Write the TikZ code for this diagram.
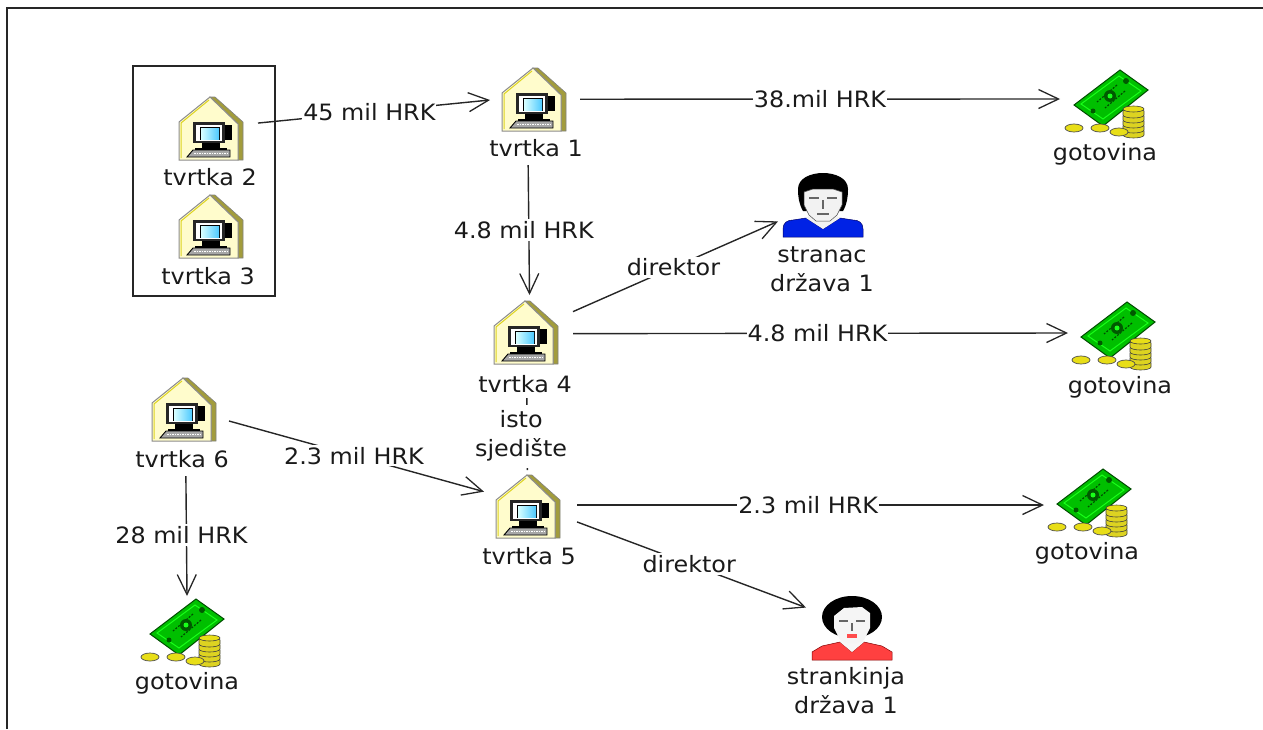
\documentclass[tikz,border=0pt]{standalone}
\usepackage{fontspec}
\setmainfont[FakeStretch=1.06]{DejaVu Sans}
\usetikzlibrary{arrows.meta}
\definecolor{txt}{HTML}{1A1A1A}
\tikzset{
  box/.style 2 args={minimum width=#1pt,minimum height=#2pt,inner sep=0pt,outer sep=0pt},
  lbl/.style={font=\fontsize{22.5}{29}\selectfont,text=txt,inner sep=0pt,align=center},
  elbl/.style={lbl,fill=white,inner xsep=1pt,inner ysep=2pt},
  flow/.style={draw=black!85,line width=1.4pt,-{Straight Barb[length=20pt,width=19pt,line width=1.3pt]}},
  plain/.style={draw=black!85,line width=1.4pt},
  pics/house/.style={code={
    \fill[fill=olive!70!white!90!black,draw=black!50,line width=.6pt] (0,0)--(5,0)--(33,25)--(33,63)--(28,63)--(28,27)--cycle;
    \fill[fill=yellow!20,draw=black!45,line width=1pt] (0,0)--(-31,25)--(-31,63)--(28,63)--(28,27)--cycle;
    \draw[yellow!85!black,line width=1pt] (-1,3)--(-29,26)--(-29,61);
    \fill[black!85] (-17,25) rectangle (15,46);
    \fill[black] (15,28) rectangle (22,43);
    \fill[white] (-14,27.5) rectangle (12,44);
    \fill[black] (-10.5,30) rectangle (10,43);
    \fill[left color=cyan!15,right color=cyan!70!blue!70] (-9,31) rectangle (9,42);
    \fill[black] (-8,46) rectangle (10,51);
    \fill[black] (-15,51) rectangle (17,53);
    \fill[black!35,draw=black,line width=.9pt] (-17,53)--(20,53)--(20,60)--(-23,60)--cycle;
    \draw[white,line width=1pt,dash pattern=on 1.5pt off 1pt] (-16,56.5)--(18,56.5);
  }},
  pics/money/.style={code={
    \fill[green!75!black,draw=green!30!black,line width=1pt] (0,0)--(28,20)--(-17,56)--(-46,35)--cycle;
    \draw[green!90!white,line width=1pt] (-1,6)--(21,21)--(-17,49)--(-39,34)--cycle;
    \draw[green!30!black,line width=1.2pt,dash pattern=on 2pt off 1.5pt] (-3,15)--(-23,32) (5,21)--(-15,38);
    \fill[green!35!black] (-10,26) circle (6);
    \fill[green!90!white] (-10,26) circle (2.5);
    \fill[green!35!black] (6,11) circle (3);
    \fill[green!35!black] (-27,41) circle (2.5);
    \foreach \y in {61,56,51,46,41}{
      \fill[yellow!85!black,draw=black!75,line width=.6pt] (3,\y) -- (3,\y+4) arc[start angle=180,end angle=360,x radius=10.5,y radius=-3] -- (24,\y) arc[start angle=0,end angle=180,x radius=10.5,y radius=-3] -- cycle;
    }
    \fill[yellow!90!black,draw=black!75,line width=.6pt] (13.5,39) ellipse (10.5 and 3);
    \foreach \x/\y in {-46/58,-20/58,-1/62}{
      \fill[yellow!90!black,draw=black!70,line width=.7pt] (\x,\y) ellipse (9 and 4);
    }
  }},
  pics/man/.style={code={
    \fill[blue!85!cyan!90!black,draw=blue!40!black,line width=.5pt] (-40,64)--(-40,56) .. controls (-40,50) and (-36,47) .. (-30,47) -- (-17,45)--(0,56)--(17,45)--(30,47) .. controls (36,47) and (40,50) .. (40,56)--(40,64)--cycle;
    \fill[black!5] (-8,38)--(8,38)--(17,45)--(0,56)--(-17,45)--cycle;
    \fill[black] (-25,16) .. controls (-25,5) and (-12,0) .. (0,0) .. controls (12,0) and (25,5) .. (25,16) .. controls (25,24) and (24,31) .. (20,38) --(-20,38) .. controls (-24,31) and (-25,24) .. (-25,16) -- cycle;
    \fill[black!5,draw=black!70,line width=.5pt] (-19,19)--(-10,16)--(10,16)--(19,19)--(19,32)--(14,42)--(7,48)--(-7,48)--(-14,42)--(-19,32)--cycle;
    \draw[black!60,line width=1.2pt] (-14,25)--(-4,25) (4,25)--(14,25) (0,27)--(0,36) (-6,41)--(6,41);
  }},
  pics/woman/.style={code={
    \fill[red!75!white,draw=red!50!black,line width=.5pt] (-40,64)--(-40,56)--(-30,50)--(-12,46)--(0,56)--(12,46)--(30,50)--(40,56)--(40,64)--cycle;
    \fill[black!3] (-7,38)--(7,38)--(12,46)--(0,56)--(-12,46)--cycle;
    \fill[black] (0,21) ellipse (30 and 21);
    \fill[black!4] (-18,20)--(-8,12)--(10,11)--(18,17)--(18,32)--(12,44)--(4,47)--(-4,47)--(-12,44)--(-18,32)--cycle;
    \draw[black!60,line width=1.2pt] (-13,25)--(-4,25) (4,25)--(13,25) (0,27)--(0,35);
    \fill[red!70!white] (-5,38) rectangle (5,41.5);
  }},
}
\begin{document}
\begin{tikzpicture}[x=1pt,y=-1pt]
\useasboundingbox (0,0) rectangle (1263,729);
\draw[black!85,line width=2pt] (6.5,729)--(6.5,8)--(1263,8);
\node[draw=black!85,line width=1.4pt,box={142}{230}] (grp) at (204,181) {};

% invisible anchor boxes for the entities
\node[box={94}{60}] (t2) at (211,128) {};
\node[box={90}{130}] (t1) at (535,100) {};
\node[box={96}{103}] (t4) at (525,346.5) {};
\node[box={93}{70}] (t5) at (530.5,505) {};
\node[box={92}{110}] (t6) at (183,421) {};
\node[box={60}{60}] (t3) at (211,226) {};
\node[box={90}{60}] (c1) at (1105,99) {};
\node[box={104}{60}] (c2) at (1120,333) {};
\node[box={86}{60}] (c3) at (1087,505) {};
\node[box={90}{88}] (c4) at (187,640) {};
\node[box={90}{60}] (p1) at (823,205) {};
\node[box={92}{60}] (p2) at (852,630) {};

% icons
\pic at (210,97) {house};
\pic at (210,195) {house};
\pic at (533,68) {house};
\pic at (525,301) {house};
\pic at (183,378) {house};
\pic at (527,475) {house};
\pic at (1120,70) {money};
\pic at (1127,302) {money};
\pic at (1103,469) {money};
\pic at (196,599) {money};
\pic at (823,173) {man};
\pic at (852,596) {woman};

% labels
\node[lbl] (lt2) at (210,177) {tvrtka 2};
\node[lbl] (lt3) at (208,276) {tvrtka 3};
\node[lbl] (lt1) at (536,148) {tvrtka 1};
\node[lbl] (lt4) at (525,384) {tvrtka 4};
\node[lbl] (lt6) at (182,459) {tvrtka 6};
\node[lbl] (lt5) at (529,556) {tvrtka 5};
\node[lbl] (lc1) at (1105,154) {gotovina};
\node[lbl] (lc2) at (1120,387) {gotovina};
\node[lbl] (lc3) at (1087,553) {gotovina};
\node[lbl] (lc4) at (187,683) {gotovina};
\node[lbl] (lp1) at (822,269) {stranac\\država 1};
\node[lbl] (lp2) at (846,691) {strankinja\\država 1};

% connectors
\path[flow] (t2.6) -- node[elbl,pos=.48] {45 mil HRK} (t1.west);
\path[flow] (t1.1) -- node[elbl,pos=.5] {38.mil HRK} (c1.west);
\path[flow] (t1.264.7) -- node[elbl,pos=.5,xshift=-5pt] {4.8 mil HRK} (t4.85.6);
\path[flow] (t4.36.5) -- node[elbl,pos=.49] {direktor} (p1.200.7);
\path[flow] (t4.15.7) -- node[elbl,pos=.5,xshift=-3pt] {4.8 mil HRK} (c2.west);
\path[plain] (t4.272.2) -- node[elbl,pos=.53,xshift=-6pt,inner ysep=6pt] {isto\\sjedište} (t5.95.7);
\path[flow] (t6.east) -- node[elbl,pos=.49] {2.3 mil HRK} (t5.164.4);
\path[flow] (t5.east) -- node[elbl,pos=.495] {2.3 mil HRK} (c3.west);
\path[flow] (t5.340) -- node[elbl,pos=.49] {direktor} (p2.154.4);
\path[flow] (t6.273.1) -- node[elbl,pos=.49,xshift=-5pt] {28 mil HRK} (c4.north);
\end{tikzpicture}
\end{document}
